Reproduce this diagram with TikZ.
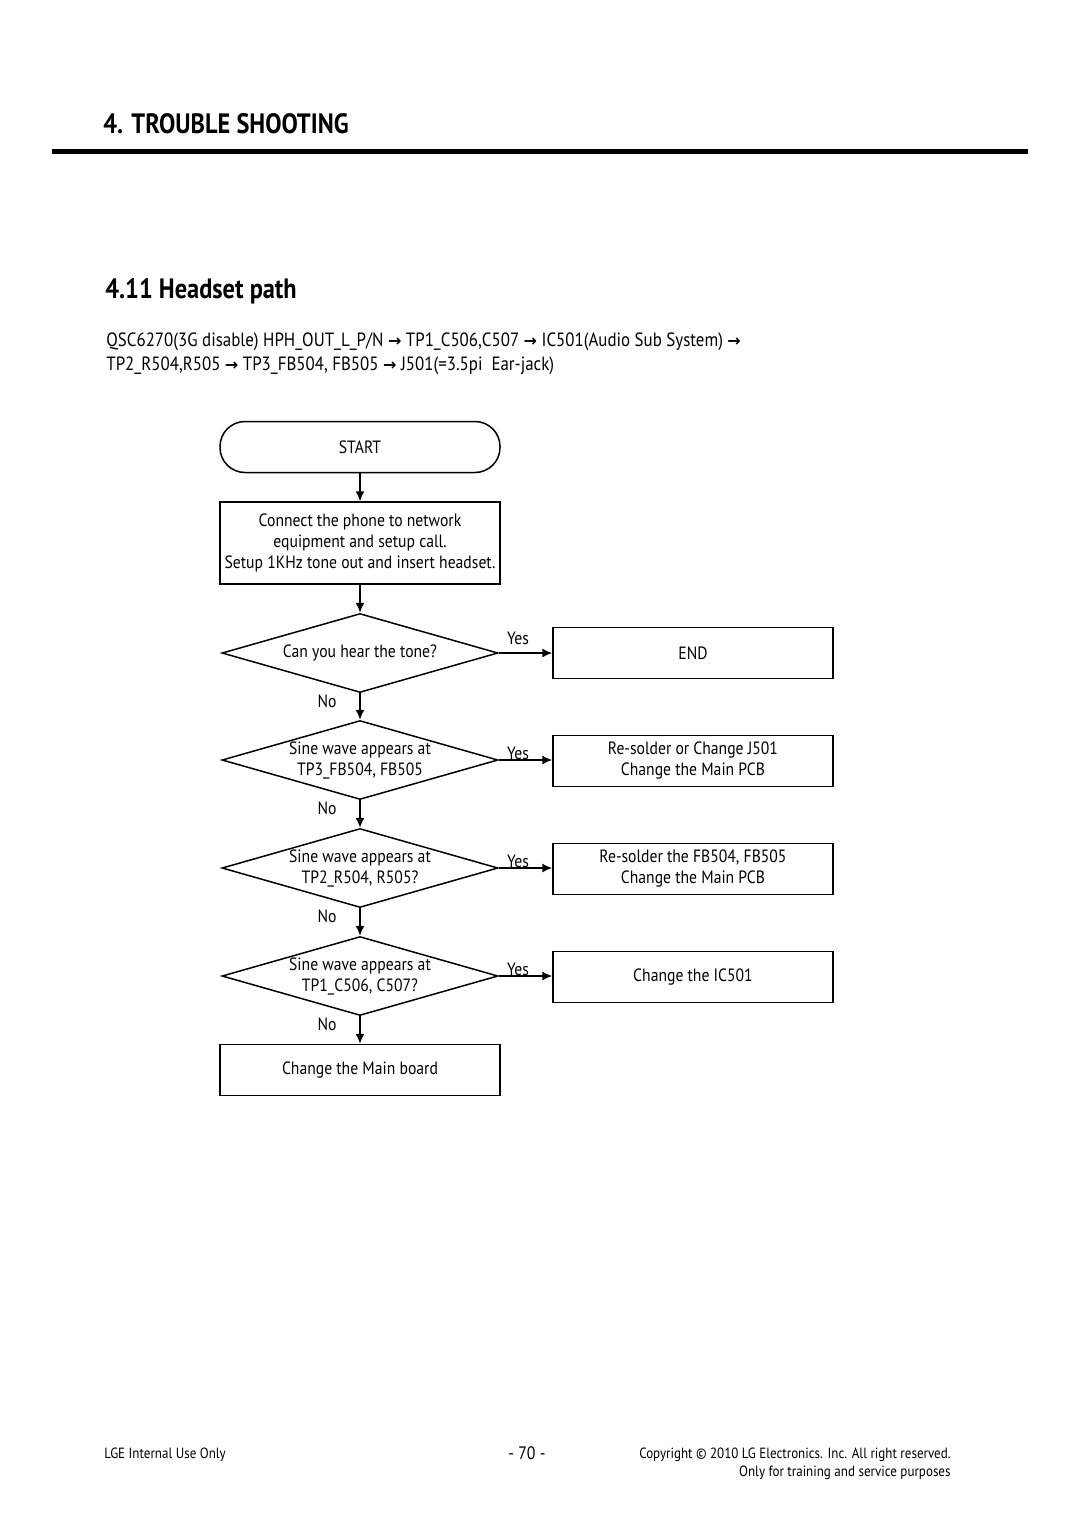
\documentclass[tikz,border=0pt]{standalone}
\usepackage{fontspec}
\setmainfont{PT Sans}[FakeStretch=0.88]
\newfontfamily\headfont{PT Sans}[FakeStretch=0.87]
\newfontfamily\arrowfont{DejaVu Sans}
\usetikzlibrary{shapes.geometric,arrows.meta}
\newcommand{\ra}{{\arrowfont\bfseries\fontsize{8}{9}\selectfont →}}
\begin{document}
\begin{tikzpicture}[x=0.5pt,y=-0.5pt,
	fc/.style={font=\fontsize{8.9}{10.5}\selectfont},
	box/.style={fc,draw,line width=0.75pt,minimum width=140pt,minimum height=25.5pt,inner sep=0pt,align=center},
	term/.style={box,rounded corners=12.5pt},
	dec/.style={fc,draw,line width=0.75pt,diamond,aspect=3.5,minimum width=138pt,minimum height=39.5pt,inner sep=0pt,align=center},
	arr/.style={line width=0.75pt,-{Latex[length=5pt,width=4.5pt]}},
	lbl/.style={fc,inner sep=0pt}]
	\useasboundingbox (0,0) rectangle (1080,1527);
	% page head
	\node [anchor=base west,inner sep=0pt,font=\headfont\bfseries\fontsize{14}{16}\selectfont] (title) at (103,133) {4. TROUBLE SHOOTING};
	\draw [line width=2.5pt] (52,151) -- (1028,151);
	\node [anchor=base west,inner sep=0pt,font=\headfont\bfseries\fontsize{14}{16}\selectfont] (sect) at (105,298) {4.11 Headset path};
	\node [anchor=base west,inner sep=0pt,font=\fontsize{9.6}{12}\selectfont,align=left] (path) at (106,370) {QSC6270(3G disable) HPH\_OUT\_L\_P/N \ra\ TP1\_C506,C507 \ra\ IC501(Audio Sub System) \ra\\TP2\_R504,R505 \ra\ TP3\_FB504, FB505 \ra\ J501(=3.5pi\ \ Ear-jack)};
	% flow
	\node [term] (start) at (360,447) {START};
	\node [box,minimum height=41pt] (setup) at (360,543) {Connect the phone to network\\equipment and setup call.\\Setup 1KHz tone out and insert headset.};
	\node [dec] (tone) at (360,653) {Can you hear the tone?};
	\node [dec] (tp3) at (360,760) {Sine wave appears at\\TP3\_FB504, FB505};
	\node [dec] (tp2) at (360,868) {Sine wave appears at\\TP2\_R504, R505?};
	\node [dec] (tp1) at (360,976) {Sine wave appears at\\TP1\_C506, C507?};
	\node [box] (board) at (360,1070) {Change the Main board};
	\node [box] (end) at (693,653) {END};
	\node [box] (jack) at (693,761) {Re-solder or Change J501\\Change the Main PCB};
	\node [box] (fb) at (693,869) {Re-solder the FB504, FB505\\Change the Main PCB};
	\node [box] (ic) at (693,977) {Change the IC501};
	\draw [arr] (start) -- (setup);
	\draw [arr] (setup) -- (tone);
	\draw [arr] (tone) -- (tp3);
	\draw [arr] (tp3) -- (tp2);
	\draw [arr] (tp2) -- (tp1);
	\draw [arr] (tp1) -- (board);
	\draw [arr] (tone.east) -- (end.west);
	\draw [arr] (tp3.east) -- (tp3.east -| jack.west);
	\draw [arr] (tp2.east) -- (tp2.east -| fb.west);
	\draw [arr] (tp1.east) -- (tp1.east -| ic.west);
	\node [lbl] (yes1) at (518,638) {Yes};
	\node [lbl] (yes2) at (518,753) {Yes};
	\node [lbl] (yes3) at (518,861) {Yes};
	\node [lbl] (yes4) at (518,969) {Yes};
	\node [lbl] (no1) at (327,701) {No};
	\node [lbl] (no2) at (327,808) {No};
	\node [lbl] (no3) at (327,916) {No};
	\node [lbl] (no4) at (327,1024) {No};
	% page foot
	\node [anchor=base west,inner sep=0pt,font=\fontsize{7.4}{9}\selectfont] (foot1) at (104,1458) {LGE Internal Use Only};
	\node [anchor=base,inner sep=0pt,font=\fontsize{9}{10}\selectfont] (page) at (527,1459) {- 70 -};
	\node [anchor=base east,inner sep=0pt,font=\fontsize{7.4}{9}\selectfont,align=right] (foot2) at (951,1476) {Copyright © 2010 LG Electronics. Inc. All right reserved.\\Only for training and service purposes};
\end{tikzpicture}
\end{document}
